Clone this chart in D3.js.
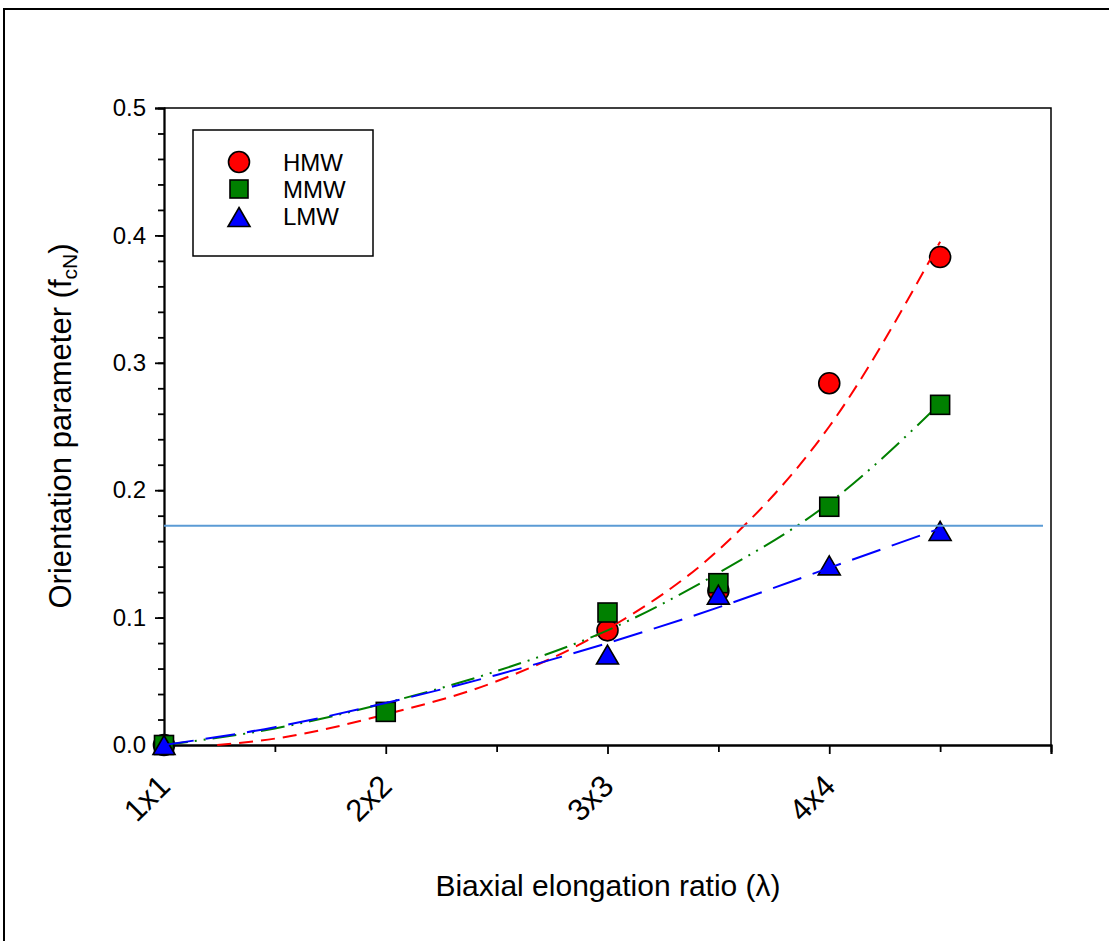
<!DOCTYPE html>
<html>
<head>
<meta charset="utf-8">
<script src="https://cdn.jsdelivr.net/npm/d3@7"></script>
<style>
  body { margin: 0; background: #fff; }
  text { font-family: "Liberation Sans", Arial, sans-serif; fill: #000; }
</style>
</head>
<body>
<div id="chart"></div>
<script>
// category ticks on the x axis
var tickValues = [1, 2, 3, 4];
var tickLabels = ['1x1', '2x2', '3x3', '4x4'];

// measured points
var hmwX = [1, 3, 3.5, 4, 4.5];
var hmwY = [0.0, 0.090, 0.121, 0.284, 0.383];
var mmwX = [1, 2, 3, 3.5, 4, 4.5];
var mmwY = [0.0, 0.026, 0.104, 0.127, 0.187, 0.267];
var lmwX = [1, 3, 3.5, 4, 4.5];
var lmwY = [0.0, 0.071, 0.118, 0.141, 0.168];

// fitted curves
var hmwFitX = [1.24, 1.5, 2, 2.5, 3, 3.5, 4, 4.5];
var hmwFitY = [0, 0.005, 0.024, 0.05, 0.091, 0.153, 0.25, 0.395];
var fitX = [1, 1.5, 2, 2.5, 3, 3.5, 4, 4.5];
var mmwFitY = [0, 0.013, 0.033, 0.058, 0.09, 0.135, 0.19, 0.268];
var lmwFitY = [0, 0.014, 0.033, 0.055, 0.08, 0.108, 0.139, 0.17];

var refLine = 0.172;

var width = 1109, height = 941;
var pLeft = 164, pRight = 1051, pTop = 108, pBottom = 745;

var svg = d3.select('#chart').append('svg')
    .attr('width', width)
    .attr('height', height);

svg.append('rect').attr('width', width).attr('height', height).style('fill', '#fff');

// outer frame
svg.append('rect')
    .attr('x', 4).attr('y', 9)
    .attr('width', 1200).attr('height', 1000)
    .style('fill', 'none').style('stroke', '#000').style('stroke-width', 2);

var x = d3.scaleLinear().domain([1, 5]).range([pLeft, pRight]);
var y = d3.scaleLinear().domain([0, 0.5]).range([pBottom, pTop]);

// plot frame (top and right)
svg.append('path')
    .attr('d', `M${pLeft},${pTop}H${pRight}V${pBottom}`)
    .style('fill', 'none').style('stroke', '#000').style('stroke-width', 1.5);

// y axis
var yMajor = d3.axisLeft(y).tickValues([0, 0.1, 0.2, 0.3, 0.4, 0.5]).tickSize(9).tickPadding(9)
    .tickFormat(d3.format('.1f'));
var yMinor = d3.axisLeft(y).tickValues(d3.range(0, 25).map((i) => i * 0.02)).tickSize(6).tickFormat('');
var gyMinor = svg.append('g').attr('transform', `translate(${pLeft},0)`).call(yMinor);
var gy = svg.append('g').attr('transform', `translate(${pLeft},0)`).call(yMajor);
[gy, gyMinor].forEach(function(g) {
    g.selectAll('path,line').style('stroke', '#000').style('stroke-width', 1.8);
    g.selectAll('text').style('font-size', '24px').style('font-family', '"Liberation Sans", Arial, sans-serif');
});

// x axis
var xMajor = d3.axisBottom(x).tickValues([1, 2, 3, 4, 5]).tickSize(9).tickFormat('');
var xMinor = d3.axisBottom(x).tickValues([1.5, 2.5, 3.5, 4.5]).tickSize(7).tickFormat('');
var gxMinor = svg.append('g').attr('transform', `translate(0,${pBottom})`).call(xMinor);
var gx = svg.append('g').attr('transform', `translate(0,${pBottom})`).call(xMajor);
[gx, gxMinor].forEach(function(g) {
    g.selectAll('path,line').style('stroke', '#000').style('stroke-width', 1.8);
});

svg.selectAll('.xlab')
    .data(tickValues)
    .enter().append('text')
    .attr('class', 'xlab')
    .attr('transform', (d) => `translate(${x(d) + 8},788) rotate(-45)`)
    .style('text-anchor', 'end')
    .style('font-size', '31px')
    .text((d, i) => tickLabels[i]);

// axis titles
svg.append('text')
    .attr('x', 608).attr('y', 896)
    .style('text-anchor', 'middle')
    .style('font-size', '30px')
    .text('Biaxial elongation ratio (λ)');

var yt = svg.append('text')
    .attr('transform', 'translate(71,426) rotate(-90)')
    .style('text-anchor', 'middle')
    .style('font-size', '31px');
yt.append('tspan').text('Orientation parameter (f');
yt.append('tspan').attr('dy', 6).style('font-size', '21px').text('cN');
yt.append('tspan').attr('dy', -6).text(')');

var line = d3.line().x((d) => x(d[0])).y((d) => y(d[1])).curve(d3.curveMonotoneX);
var zip = (xs, ys) => xs.map((v, i) => [v, ys[i]]);

var tri = 'M0,-9.5L11,9.5L-11,9.5Z';

// HMW circles
svg.selectAll('.hmw').data(zip(hmwX, hmwY)).enter().append('circle')
    .attr('cx', (d) => x(d[0])).attr('cy', (d) => y(d[1])).attr('r', 10.5)
    .style('fill', '#ff0000').style('stroke', '#000').style('stroke-width', 1.6);

svg.append('path').attr('d', line(zip(hmwFitX, hmwFitY)))
    .style('fill', 'none').style('stroke', '#ff0000').style('stroke-width', 2)
    .style('stroke-dasharray', '14,8');

svg.append('path').attr('d', line(zip(fitX, mmwFitY)))
    .style('fill', 'none').style('stroke', '#008000').style('stroke-width', 2)
    .style('stroke-dasharray', '24,7,2,7,2,7');

// MMW squares
svg.selectAll('.mmw').data(zip(mmwX, mmwY)).enter().append('rect')
    .attr('x', (d) => x(d[0]) - 9.5).attr('y', (d) => y(d[1]) - 9.5)
    .attr('width', 19).attr('height', 19)
    .style('fill', '#008000').style('stroke', '#000').style('stroke-width', 1.6);

// LMW triangles
svg.selectAll('.lmw').data(zip(lmwX, lmwY)).enter().append('path')
    .attr('d', tri)
    .attr('transform', (d) => `translate(${x(d[0])},${y(d[1])})`)
    .style('fill', '#0000ff').style('stroke', '#000').style('stroke-width', 1.6);

svg.append('path').attr('d', line(zip(fitX, lmwFitY)))
    .style('fill', 'none').style('stroke', '#0000ff').style('stroke-width', 2)
    .style('stroke-dasharray', '30,12');

// reference line
svg.append('line')
    .attr('x1', pLeft).attr('x2', 1043)
    .attr('y1', y(refLine)).attr('y2', y(refLine))
    .style('stroke', '#5b9bd5').style('stroke-width', 2);

// legend
var legend = svg.append('g');
legend.append('rect')
    .attr('x', 193).attr('y', 130).attr('width', 180).attr('height', 126)
    .style('fill', '#fff').style('stroke', '#000').style('stroke-width', 1.5);

legend.append('circle').attr('cx', 239).attr('cy', 162).attr('r', 10.5)
    .style('fill', '#ff0000').style('stroke', '#000').style('stroke-width', 1.6);
legend.append('rect').attr('x', 230).attr('y', 180).attr('width', 18).attr('height', 18)
    .style('fill', '#008000').style('stroke', '#000').style('stroke-width', 1.6);
legend.append('path').attr('d', tri).attr('transform', 'translate(239,217)')
    .style('fill', '#0000ff').style('stroke', '#000').style('stroke-width', 1.6);

var names = ['HMW', 'MMW', 'LMW'];
var rows = [162, 189, 216];
legend.selectAll('.lt').data(names).enter().append('text')
    .attr('x', 283).attr('y', (d, i) => rows[i] + 9)
    .style('font-size', '24px')
    .text((d) => d);
</script>
</body>
</html>
